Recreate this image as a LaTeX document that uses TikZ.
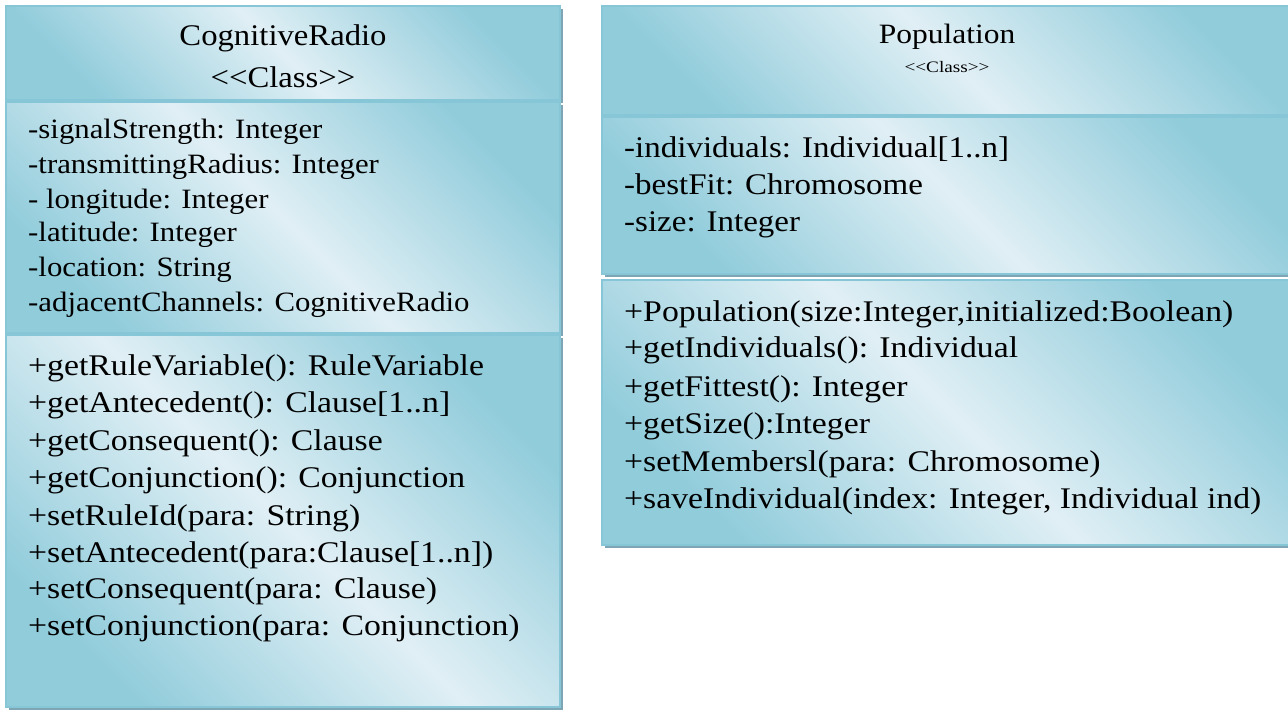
\documentclass[tikz,border=0pt]{standalone}
\usepackage{fontspec}
\setmainfont{Liberation Serif}
\definecolor{cdark}{RGB}{145,204,219}
\definecolor{clight}{RGB}{224,239,245}
\definecolor{cborder}{RGB}{135,198,215}
\definecolor{cshadow}{RGB}{125,165,180}
\newcommand{\mw}[1]{\scalebox{1.125}[1]{#1}}
\newcommand{\aw}[1]{\scalebox{1.1}[1]{#1}}
\newcommand{\tw}[1]{\scalebox{1.09}[1]{#1}}
\begin{document}
\begin{tikzpicture}[x=1pt,y=-1pt,
  comp/.style={draw=cborder, line width=2pt, left color=cdark, right color=cdark, middle color=clight, shading angle=135},
  shad/.style={fill=cshadow, draw=none},
  lbl/.style={anchor=base west, inner sep=0pt},
  ttl/.style={anchor=center, inner sep=0pt},
  fmeth/.style={font=\fontsize{30}{36}\selectfont},
  fattr/.style={font=\fontsize{28}{34}\selectfont},
  fttl/.style={font=\fontsize{30}{36}\selectfont},
  fsmall/.style={font=\fontsize{16}{18}\selectfont}
]
\useasboundingbox (0,0) rectangle (1288,711);
\begin{scope}
\clip (0,0) rectangle (1288,711);
% left class
\path[shad] (9,9) rectangle (563,103);
\path[comp] (6,6) rectangle (560,100);
\path[shad] (9,105) rectangle (563,336);
\path[comp] (6,102) rectangle (560,333);
\path[shad] (9,338) rectangle (563,710);
\path[comp] (6,335) rectangle (560,707);
% right class
\path[shad] (605,9) rectangle (1300,118);
\path[comp] (602,6) rectangle (1300,115);
\path[shad] (605,120) rectangle (1300,277);
\path[comp] (602,117) rectangle (1300,274);
\path[shad] (605,283) rectangle (1300,548);
\path[comp] (602,280) rectangle (1300,545);
\end{scope}

\node[ttl,fttl] (crt) at (283,38) {\tw{CognitiveRadio}};
\node[ttl,fttl] (crs) at (283,77) {\tw{<{}<Class>{}>}};

\node[lbl,fattr] (cra1) at (28,139) {\aw{-signalStrength: Integer}};
\node[lbl,fattr] (cra2) at (28,174) {\aw{-transmittingRadius: Integer}};
\node[lbl,fattr] (cra3) at (28,209) {\aw{- longitude: Integer}};
\node[lbl,fattr] (cra4) at (28,242) {\aw{-latitude: Integer}};
\node[lbl,fattr] (cra5) at (28,277) {\aw{-location: String}};
\node[lbl,fattr] (cra6) at (28,312) {\aw{-adjacentChannels: CognitiveRadio}};

\node[lbl,fmeth] (crm1) at (28,375) {\mw{+getRuleVariable(): RuleVariable}};
\node[lbl,fmeth] (crm2) at (28,412) {\mw{+getAntecedent(): Clause[1..n]}};
\node[lbl,fmeth] (crm3) at (28,450) {\mw{+getConsequent(): Clause}};
\node[lbl,fmeth] (crm4) at (28,487) {\mw{+getConjunction(): Conjunction}};
\node[lbl,fmeth] (crm5) at (28,525) {\mw{+setRuleId(para: String)}};
\node[lbl,fmeth] (crm6) at (28,562) {\mw{+setAntecedent(para:Clause[1..n])}};
\node[lbl,fmeth] (crm7) at (28,598) {\mw{+setConsequent(para: Clause)}};
\node[lbl,fmeth] (crm8) at (28,635) {\mw{+setConjunction(para: Conjunction)}};

\node[ttl,font=\fontsize{28}{32}\selectfont] (pt) at (947,37) {\mw{Population}};
\node[ttl,fsmall] (ps) at (947,67) {\scalebox{1.2}[1]{<{}<Class>{}>}};

\node[lbl,fmeth] (pa1) at (624,158) {\aw{-individuals: Individual[1..n]}};
\node[lbl,fmeth] (pa2) at (624,195) {\aw{-bestFit: Chromosome}};
\node[lbl,fmeth] (pa3) at (624,232) {\aw{-size: Integer}};

\node[lbl,fmeth] (pm1) at (624,322) {\mw{+Population(size:Integer,initialized:Boolean)}};
\node[lbl,fmeth] (pm2) at (624,358) {\mw{+getIndividuals(): Individual}};
\node[lbl,fmeth] (pm3) at (624,396) {\mw{+getFittest(): Integer}};
\node[lbl,fmeth] (pm4) at (624,433) {\mw{+getSize():Integer}};
\node[lbl,fmeth] (pm5) at (624,471) {\mw{+setMembersl(para: Chromosome)}};
\node[lbl,fmeth] (pm6) at (624,508) {\mw{+saveIndividual(index: Integer, Individual ind)}};
\end{tikzpicture}
\end{document}
